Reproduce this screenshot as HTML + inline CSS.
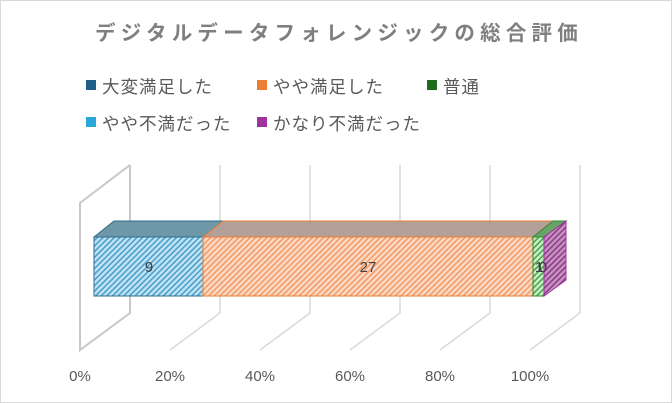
<!DOCTYPE html>
<html><head><meta charset="utf-8"><style>
body{margin:0;background:#fff}
svg{display:block;font-family:"Liberation Sans","Noto Sans CJK JP",sans-serif}
</style></head><body>
<svg width="672" height="403" viewBox="0 0 672 403">
<defs>
<pattern id="pb" width="4" height="4" patternUnits="userSpaceOnUse" patternTransform="rotate(45)"><rect width="4" height="4" fill="#bfe3f5"/><rect width="1.5" height="4" fill="#4a9cc9"/></pattern>
<pattern id="po" width="4" height="4" patternUnits="userSpaceOnUse" patternTransform="rotate(45)"><rect width="4" height="4" fill="#fbd9c4"/><rect width="1.5" height="4" fill="#f29a66"/></pattern>
<pattern id="pg" width="4" height="4" patternUnits="userSpaceOnUse" patternTransform="rotate(45)"><rect width="4" height="4" fill="#c8f0c8"/><rect width="1.5" height="4" fill="#4aa04a"/></pattern>
<pattern id="pp" width="4" height="4" patternUnits="userSpaceOnUse" patternTransform="rotate(45)"><rect width="4" height="4" fill="#c890c0"/><rect width="1.5" height="4" fill="#8a3c86"/></pattern>
</defs>
<rect x="0.5" y="0.5" width="671" height="402" fill="#fff" stroke="#d9d9d9"/>
<text x="339" y="40" text-anchor="middle" font-size="20.5" font-weight="bold" fill="#7f7f7f" letter-spacing="5.2">デジタルデータフォレンジックの総合評価</text>
<g font-size="17.5" fill="#595959" letter-spacing="1">
<rect x="86" y="80" width="10" height="10" fill="#1f5f8a"/><text x="102" y="93">大変満足した</text>
<rect x="257" y="80" width="10" height="10" fill="#ed7d31"/><text x="273" y="93">やや満足した</text>
<rect x="427" y="80" width="10" height="10" fill="#1e6b1e"/><text x="443" y="93">普通</text>
<rect x="86" y="117" width="10" height="10" fill="#2aa6d8"/><text x="102" y="130">やや不満だった</text>
<rect x="257" y="117" width="10" height="10" fill="#a033a0"/><text x="273" y="130">かなり不満だった</text>
</g>
<g stroke="#d9d9d9" stroke-width="1.5" fill="none">
<path d="M130 165V313L80 350V203L130 165" stroke="#c8c8c8" stroke-width="2"/>
<path d="M220 165V313L170 350"/><path d="M310 165V313L260 350"/><path d="M400 165V313L350 350"/><path d="M490 165V313L440 350"/><path d="M580 165V313L530 350"/>
</g>
<polygon points="94,237 114,221 223,221 203,237" fill="#6e97a8" stroke="#2e6e8e"/>
<polygon points="203,237 223,221 553,221 533,237" fill="#b3a099" stroke="#ed7d31"/>
<polygon points="533,237 553,221 566,221 544,237" fill="#6aa36a" stroke="#2e8b2e"/>
<rect x="94" y="237" width="109" height="59" fill="url(#pb)" stroke="#2e6e8e"/>
<rect x="203" y="237" width="330" height="59" fill="url(#po)" stroke="#ed7d31"/>
<rect x="533" y="237" width="11" height="59" fill="url(#pg)" stroke="#2e8b2e"/>
<polygon points="544,237 566,221 566,280 544,296" fill="url(#pp)" stroke="#a033a0"/>
<g font-size="15" fill="#404040" text-anchor="middle">
<text x="149" y="272">9</text><text x="368" y="272">27</text><text x="539" y="272">1</text><text x="543" y="272">0</text>
</g>
<g font-size="15" fill="#595959" text-anchor="middle">
<text x="80" y="381">0%</text><text x="170" y="381">20%</text><text x="260" y="381">40%</text><text x="350" y="381">60%</text><text x="440" y="381">80%</text><text x="530" y="381">100%</text>
</g>
</svg>
</body></html>
